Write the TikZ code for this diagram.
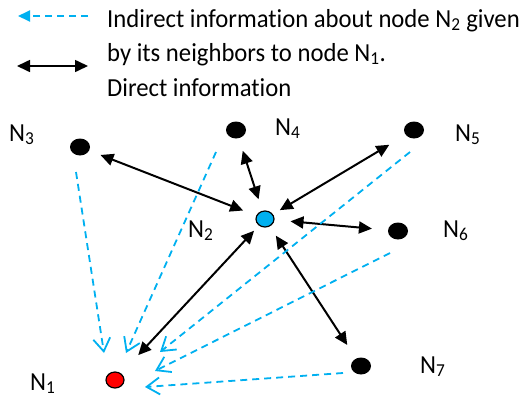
\documentclass[tikz,border=0pt]{standalone}
\usepackage{xcolor}
\usepackage{fontspec}
\setmainfont[FakeStretch=0.95,Ligatures=NoCommon]{Carlito}
\usepackage{tikz}
\usetikzlibrary{arrows.meta,positioning,shapes.geometric}
\definecolor{cyanblue}{HTML}{00B0F0}
\definecolor{redfill}{HTML}{FF0000}
\begin{document}
\begin{tikzpicture}[x=1pt,y=-1pt,every node/.style={font=\fontsize{26}{34}\selectfont,inner sep=0pt},dot/.style={ellipse,fill=black,minimum width=20pt,minimum height=17pt},lbl/.style={anchor=base west},direct/.style={{Triangle[length=13pt,width=12pt]}-{Triangle[length=13pt,width=12pt]},line width=2pt},hint/.style={-{Straight Barb[length=13pt,width=17pt]},cyanblue,line width=1.8pt,dash pattern=on 7pt off 5pt}]
\useasboundingbox (0,0) rectangle (528,397);
% legend
\coordinate (ih) at (18,16);
\coordinate (it) at (88,16);
\coordinate (dl) at (17,66);
\coordinate (dr) at (88,66);
\draw[-{Triangle[length=12pt,width=11pt]},cyanblue,line width=1.8pt,dash pattern=on 7pt off 5pt] (it)--(ih);
\draw[{Triangle[length=13pt,width=12pt]}-{Triangle[length=13pt,width=12pt]},line width=1.6pt] (dl)--(dr);
\node[lbl] (t1) at (107,27) {Indirect information about node N\textsubscript{2} given};
\node[lbl] (t2) at (107,61) {by its neighbors to node N\textsubscript{1}.};
\node[lbl] (t3) at (107,96) {Direct information};
% nodes
\node[dot,draw=black,fill=redfill,line width=1.2pt,minimum width=18pt,minimum height=16pt] (n1) at (115,380) {};
\node[dot,draw=black,fill=cyanblue,line width=1.2pt,minimum width=18pt,minimum height=16pt] (n2) at (265,219) {};
\node[dot] (n3) at (80,147) {};
\node[dot] (n4) at (236,130) {};
\node[dot] (n5) at (414,130) {};
\node[dot] (n6) at (398,231) {};
\node[dot] (n7) at (361,366) {};
\node[lbl] (l1) at (30,390) {N\textsubscript{1}};
\node[lbl] (l2) at (188,237) {N\textsubscript{2}};
\node[lbl] (l3) at (9,141) {N\textsubscript{3}};
\node[lbl] (l4) at (275,135) {N\textsubscript{4}};
\node[lbl] (l5) at (455,141) {N\textsubscript{5}};
\node[lbl] (l6) at (443,237) {N\textsubscript{6}};
\node[lbl] (l7) at (420,373) {N\textsubscript{7}};
% direct links
\draw[direct,shorten <=12pt,shorten >=14pt] (n3)--(n2);
\draw[direct,shorten <=13pt,shorten >=12pt] (n4)--(n2);
\draw[direct,shorten <=19pt,shorten >=8pt] (n5)--(n2);
\draw[direct,shorten <=16pt,shorten >=16pt] (n6)--(n2);
\draw[direct,shorten <=7pt,shorten >=25pt] (n2)--(n1);
\draw[direct,shorten <=11pt,shorten >=16pt] (n2)--(n7);
% indirect information to N1
\draw[hint] ([shift={(-4,25)}]n3.center)--([shift={(-11,-27)}]n1.center);
\draw[hint] ([shift={(-20,22)}]n4.center)--([shift={(11,-27)}]n1.center);
\draw[hint] ([shift={(-4,22)}]n5.center)--([shift={(45,-28)}]n1.center);
\draw[hint] ([shift={(-8,22)}]n6.center)--([shift={(40,-9)}]n1.center);
\draw[hint] ([shift={(-18,7)}]n7.center)--([shift={(30,7)}]n1.center);
\end{tikzpicture}
\end{document}
